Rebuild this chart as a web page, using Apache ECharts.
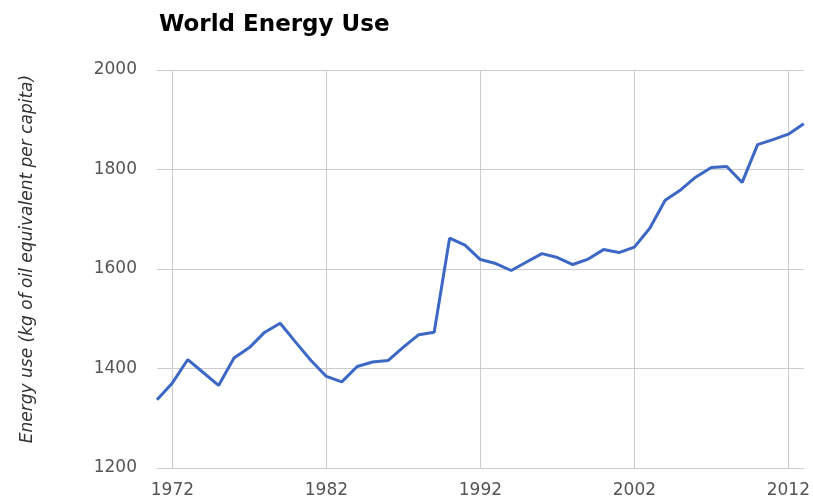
<!DOCTYPE html>
<html>
<head>
<meta charset="utf-8">
<script src="https://cdn.jsdelivr.net/npm/echarts@6/dist/echarts.min.js"></script>
<style>
  html, body { margin: 0; padding: 0; background: #fff; }
  #energy_use_con { width: 813px; height: 500px; }
</style>
</head>
<body>
<div id="energy_use_con"></div>
<script>
// years 1971 - 2013
const years = [];
for (let y = 1971; y <= 2013; y++) years.push(String(y));

const energyUse = [
  1337, 1371, 1418, 1392, 1366, 1421, 1442, 1473, 1491, 1453,
  1416, 1384, 1373, 1404, 1413, 1416, 1443, 1468, 1473, 1662,
  1648, 1619, 1611, 1597, 1614, 1631, 1623, 1609, 1620, 1639,
  1633, 1644, 1682, 1738, 1759, 1785, 1804, 1806, 1774, 1850,
  1860, 1871, 1892
];

const yTicks = [1200, 1400, 1600, 1800, 2000];
const labelYears = ["1972", "1982", "1992", "2002", "2012"];

const showYear = function (idx, val) {
  return labelYears.indexOf(years[idx]) >= 0;
};

const option = {
  animation: false,
  title: {
    text: "World Energy Use",
    left: 154,
    top: 9,
    textStyle: {
      fontFamily: "DejaVu Sans",
      fontWeight: "bold",
      fontSize: 23,
      color: "#000"
    }
  },
  grid: {
    left: 157,
    right: 9,
    top: 70,
    bottom: 32
  },
  xAxis: {
    type: "category",
    boundaryGap: false,
    data: years,
    axisLine: { show: false },
    axisTick: { show: false },
    axisLabel: {
      interval: showYear,
      margin: 14,
      fontFamily: "DejaVu Sans",
      fontSize: 17,
      color: "#555"
    },
    splitLine: {
      show: true,
      interval: showYear,
      lineStyle: { color: "#ccc", width: 1 }
    }
  },
  yAxis: {
    type: "value",
    min: yTicks[0],
    max: yTicks[yTicks.length - 1],
    interval: 200,
    name: "Energy use (kg of oil equivalent per capita)",
    nameLocation: "middle",
    nameGap: 121,
    nameTextStyle: {
      fontFamily: "DejaVu Sans",
      fontStyle: "italic",
      fontSize: 17,
      color: "#333",
      padding: [0, 0, 0, 20]
    },
    axisLine: { show: false },
    axisTick: { show: false },
    axisLabel: {
      margin: 20,
      fontFamily: "DejaVu Sans",
      fontSize: 17,
      color: "#555",
      formatter: function (v) { return String(v); }
    },
    splitLine: {
      show: true,
      lineStyle: { color: "#ccc", width: 1 }
    }
  },
  series: [
    {
      name: "Energy use",
      type: "line",
      data: energyUse,
      symbol: "none",
      lineStyle: { color: "#3d67c4", width: 3 }
    }
  ]
};

const energyChart = echarts.init(document.getElementById("energy_use_con"));
energyChart.setOption(option);
</script>
</body>
</html>
